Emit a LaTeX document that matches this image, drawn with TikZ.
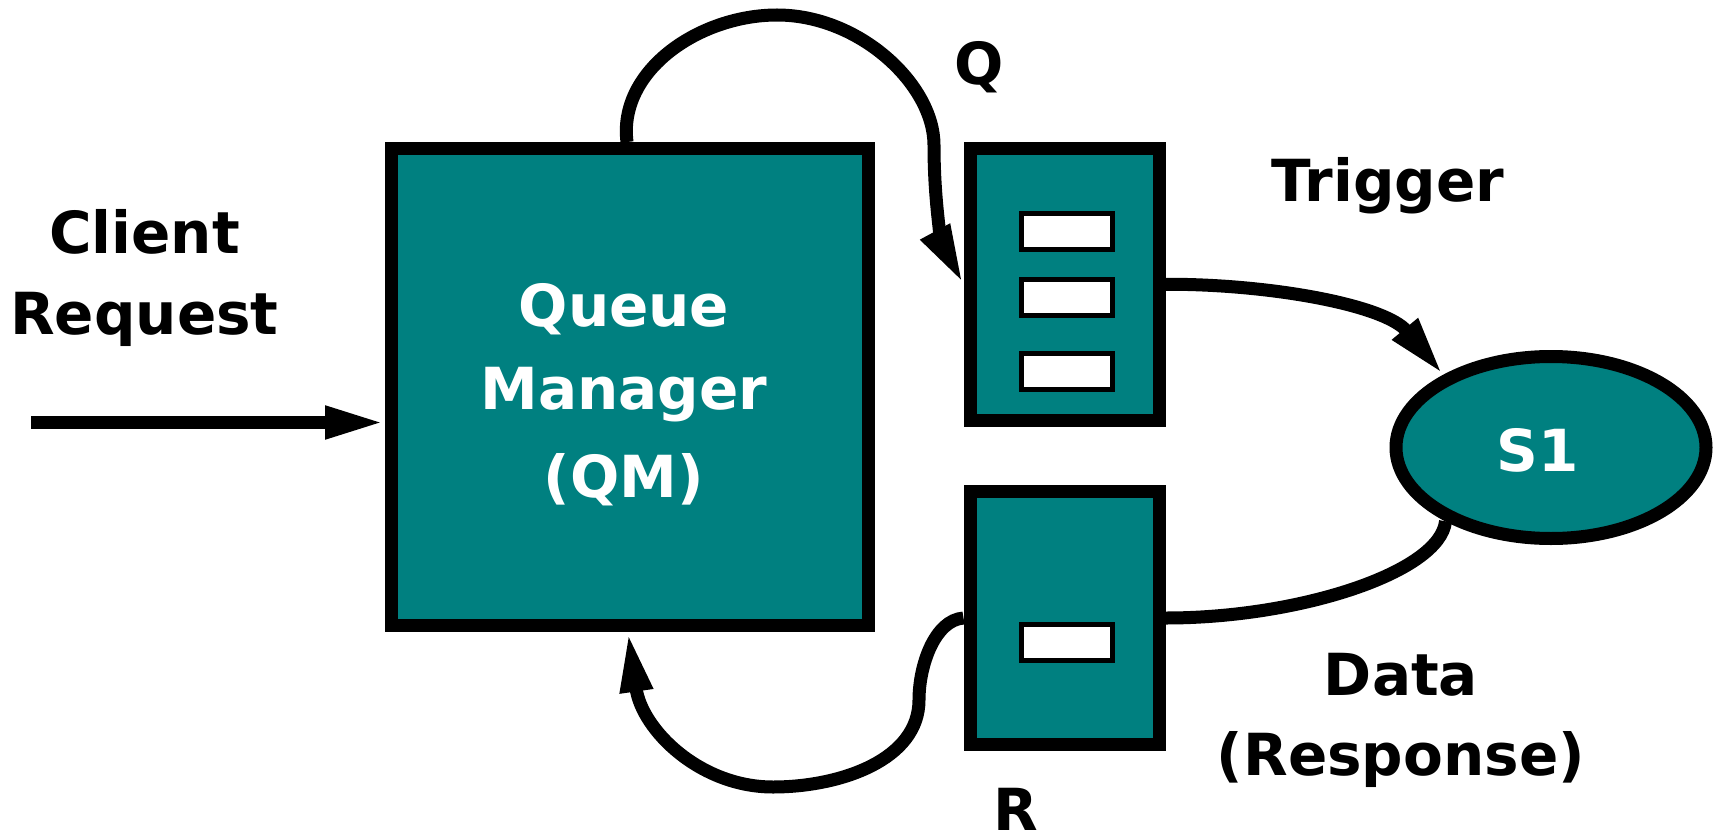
\documentclass[tikz,border=0pt]{standalone}
\usepackage{fontspec}
\setmainfont{DejaVu Sans}
\usetikzlibrary{shapes.geometric,arrows.meta}
\definecolor{qteal}{HTML}{008080}
\tikzset{
  box/.style={draw=black, fill=qteal, line width=13pt, inner sep=0pt, rectangle},
  slot/.style={draw=black, fill=white, line width=5pt, inner sep=0pt, minimum width=91pt, minimum height=36pt, rectangle},
  lbl/.style={font=\fontsize{58}{60}\selectfont\bfseries, anchor=base, inner sep=0pt},
  wlbl/.style={lbl, text=white},
  conn/.style={draw=black, line width=13pt, -{Triangle[length=60pt,width=30pt]}},
}
\begin{document}
\begin{tikzpicture}[x=1pt,y=-1pt]
\useasboundingbox (0,0) rectangle (1716,837);
% boxes
\node[box, minimum width=477pt, minimum height=477pt] (qm) at (630,387) {};
\node[box, minimum width=189.5pt, minimum height=271.5pt] (q) at (1064.75,284.25) {};
\node[box, minimum width=189.5pt, minimum height=253pt] (r) at (1064.75,618) {};
\node[slot] (q1) at (1067,231.5) {};
\node[slot] (q2) at (1067,297.5) {};
\node[slot] (q3) at (1067,371.5) {};
\node[slot] (r1) at (1067,642) {};
\node[ellipse, draw=black, fill=qteal, line width=13pt, inner sep=0pt, minimum width=310pt, minimum height=182pt] (s1) at (1551,447.5) {};
% texts
\node[lbl] (client) at (144.5,254) {Client};
\node[lbl] (request) at (144.5,334) {Request};
\node[wlbl] (queue) at (624,326) {Queue};
\node[wlbl] (manager) at (624,409) {Manager};
\node[wlbl] (qmt) at (624,497) {(QM)};
\node[lbl] (qlab) at (979,85) {Q};
\node[lbl] (trig) at (1388,202) {Trigger};
\node[wlbl] (s1t) at (1538,471) {S1};
\node[lbl] (data) at (1401,695) {Data};
\node[lbl] (resp) at (1401,775) {(Response)};
\node[lbl] (rlab) at (1016,830) {R};
% connectors
\coordinate (cin) at (31,422.5);
\draw[conn] (cin) -- ([yshift=-35.5pt]qm.west);
\draw[conn] ([xshift=-3pt]qm.north) .. controls (618,70) and (700,15) .. (777,15)
  .. controls (860,15) and (934,85) .. (934,145)
  .. controls (934,215) and (945,250) .. (q.west);
\draw[conn] (q.east) .. controls (1270,284) and (1385,305) .. (s1.146);
\draw[draw=black, line width=13pt] (s1.215) .. controls (1440,572) and (1300,618) .. (r.east);
\draw[conn] (r.west) .. controls (935,620) and (919,665) .. (919,700)
  .. controls (919,760) and (840,787) .. (773,787)
  .. controls (700,787) and (642,730) .. ([xshift=-2pt]qm.south);
\end{tikzpicture}
\end{document}
